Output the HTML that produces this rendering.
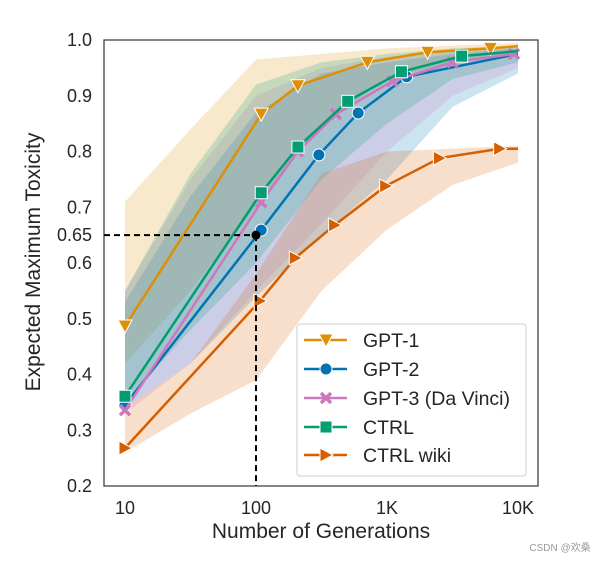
<!DOCTYPE html>
<html><head><meta charset="utf-8"><style>
body{margin:0;background:#fff;}
svg text{font-family:"Liberation Sans","Noto Sans CJK SC",sans-serif;fill:#262626;}
</style></head><body>
<svg id="c" width="608" height="562" xmlns="http://www.w3.org/2000/svg">
<rect x="104" y="40" width="434" height="446" fill="#fff" stroke="#333" stroke-width="1.2"/>
<g id="bands"></g><g id="lines"></g><g id="ref"></g><g id="axes"></g><g id="legend"></g>
<text x="40" y="262" font-size="21" text-anchor="middle" transform="rotate(-90 40 262)">Expected Maximum Toxicity</text>
<text x="321" y="538" font-size="21" text-anchor="middle">Number of Generations</text>
<text x="560" y="551" font-size="10" text-anchor="middle" style="fill:#999">CSDN @欢桑</text>
</svg>
<script>
const seriesNames=["GPT-1","GPT-2","GPT-3 (Da Vinci)","CTRL","CTRL wiki"];
const colors=["#de8f05","#0173b2","#cc78bc","#029e73","#d55e00"];
const markers=["tri-down","circle","x","square","tri-right"];
const gpt1X=[1,2.04,2.32,2.85,3.31,3.79,4];
const gpt1Y=[0.487,0.867,0.918,0.96,0.978,0.985,0.989];
const gpt2X=[1,2.04,2.48,2.78,3.15,4];
const gpt2Y=[0.345,0.659,0.794,0.869,0.934,0.975];
const gpt3X=[1,2.04,2.32,2.61,3.04,3.5,3.97];
const gpt3Y=[0.336,0.709,0.8,0.867,0.926,0.96,0.975];
const ctrlX=[1,2.04,2.32,2.7,3.11,3.57,4];
const ctrlY=[0.361,0.726,0.808,0.89,0.943,0.971,0.98];
const wikiX=[1,2.03,2.3,2.6,2.99,3.4,3.86,4];
const wikiY=[0.268,0.532,0.609,0.668,0.738,0.788,0.805,0.805];
const bandX=[1,1.5,2,2.5,3,3.5,4];
const gpt1Up=[0.71,0.84,0.965,0.975,0.985,0.99,0.995];
const gpt1Lo=[0.42,0.55,0.7,0.85,0.93,0.96,0.98];
const gpt2Up=[0.53,0.72,0.87,0.94,0.96,0.975,0.985];
const gpt2Lo=[0.34,0.42,0.54,0.65,0.75,0.88,0.94];
const gpt3Up=[0.55,0.75,0.9,0.95,0.97,0.98,0.985];
const gpt3Lo=[0.33,0.42,0.55,0.67,0.8,0.9,0.95];
const ctrlUp=[0.55,0.76,0.92,0.96,0.975,0.985,0.99];
const ctrlLo=[0.35,0.48,0.6,0.75,0.85,0.93,0.96];
const wikiUp=[0.34,0.42,0.58,0.76,0.8,0.805,0.81];
const wikiLo=[0.26,0.33,0.39,0.55,0.66,0.74,0.78];
const yTicks=[0.2,0.3,0.4,0.5,0.6,0.65,0.7,0.8,0.9,1.0];
const yTickLabels=["0.2","0.3","0.4","0.5","0.6","0.65","0.7","0.8","0.9","1.0"];
const xTicks=[1,2,3,4];
const xTickLabels=["10","100","1K","10K"];
const refX=2, refY=0.65;

const NS="http://www.w3.org/2000/svg";
const sx=l=>125+(l-1)*131;
const sy=v=>486-(v-0.2)*557.5;
function mk(t,a,p){const e=document.createElementNS(NS,t);for(const k in a)e.setAttribute(k,a[k]);p.appendChild(e);return e;}
const xs=[gpt1X,gpt2X,gpt3X,ctrlX,wikiX], ys=[gpt1Y,gpt2Y,gpt3Y,ctrlY,wikiY];
const ups=[gpt1Up,gpt2Up,gpt3Up,ctrlUp,wikiUp], los=[gpt1Lo,gpt2Lo,gpt3Lo,ctrlLo,wikiLo];
const bands=document.getElementById('bands'), lines=document.getElementById('lines');
function marker(kind,x,y,col,p){
  let e;
  if(kind==="circle") e=mk('circle',{cx:x,cy:y,r:6,fill:col,stroke:'#fff','stroke-width':1},p);
  else if(kind==="square") e=mk('rect',{x:x-6,y:y-6,width:12,height:12,fill:col,stroke:'#fff','stroke-width':1},p);
  else if(kind==="tri-down") e=mk('polygon',{points:`${x-7},${y-6} ${x+7},${y-6} ${x},${y+7}`,fill:col,stroke:'#fff','stroke-width':1},p);
  else if(kind==="tri-right") e=mk('polygon',{points:`${x-6},${y-7} ${x-6},${y+7} ${x+7},${y}`,fill:col,stroke:'#fff','stroke-width':1},p);
  else { e=mk('path',{d:`M${x-5},${y-5}L${x+5},${y+5}M${x+5},${y-5}L${x-5},${y+5}`,stroke:col,'stroke-width':3.5,fill:'none'},p); }
  return e;
}
for(let i=0;i<5;i++){
  let pts=bandX.map((l,j)=>sx(l)+','+sy(ups[i][j])).concat(bandX.slice().reverse().map((l,j)=>sx(l)+','+sy(los[i][bandX.length-1-j])));
  const b=mk('polygon',{points:pts.join(' '),fill:colors[i],'fill-opacity':0.2},bands);
  
  
}
for(let i=0;i<5;i++){
  const g=mk('g',{},lines);
  
  
  mk('polyline',{points:xs[i].map((l,j)=>sx(l)+','+sy(ys[i][j])).join(' '),fill:'none',stroke:colors[i],'stroke-width':2.5},g);
  xs[i].forEach((l,j)=>{ if(j===xs[i].length-1 && i!==2) return;
    const m=marker(markers[i],sx(l),sy(ys[i][j]),colors[i],g);
    
    
  });
}
const ref=document.getElementById('ref');
const h=mk('line',{x1:104,y1:sy(refY),x2:sx(refX),y2:sy(refY),stroke:'#000','stroke-width':2,'stroke-dasharray':'6,4'},ref);

const v=mk('line',{x1:sx(refX),y1:sy(refY),x2:sx(refX),y2:486,stroke:'#000','stroke-width':2,'stroke-dasharray':'6,4'},ref);

const d=mk('circle',{cx:sx(refX),cy:sy(refY),r:4.5,fill:'#000'},ref);

const ax=document.getElementById('axes');
yTicks.forEach((t,i)=>{const e=mk('text',{x:92,y:sy(t)+6,'font-size':18,'text-anchor':'end'},ax);e.textContent=yTickLabels[i];
});
xTicks.forEach((t,i)=>{const e=mk('text',{x:sx(t),y:514,'font-size':18,'text-anchor':'middle'},ax);e.textContent=xTickLabels[i];
});
const lg=document.getElementById('legend');

mk('rect',{x:297,y:324,width:229,height:152,rx:3,fill:'#fff','fill-opacity':0.85,stroke:'#ccc'},lg);
const ly=[340,369,398,427,455];
for(let i=0;i<5;i++){
  const g=mk('g',{},lg);
  
  
  mk('line',{x1:304,y1:ly[i],x2:347,y2:ly[i],stroke:colors[i],'stroke-width':2.5},g);
  marker(markers[i],326,ly[i],colors[i],g);
  const t=mk('text',{x:363,y:ly[i]+7,'font-size':19.5},g);t.textContent=seriesNames[i];
}
</script>
</body></html>
